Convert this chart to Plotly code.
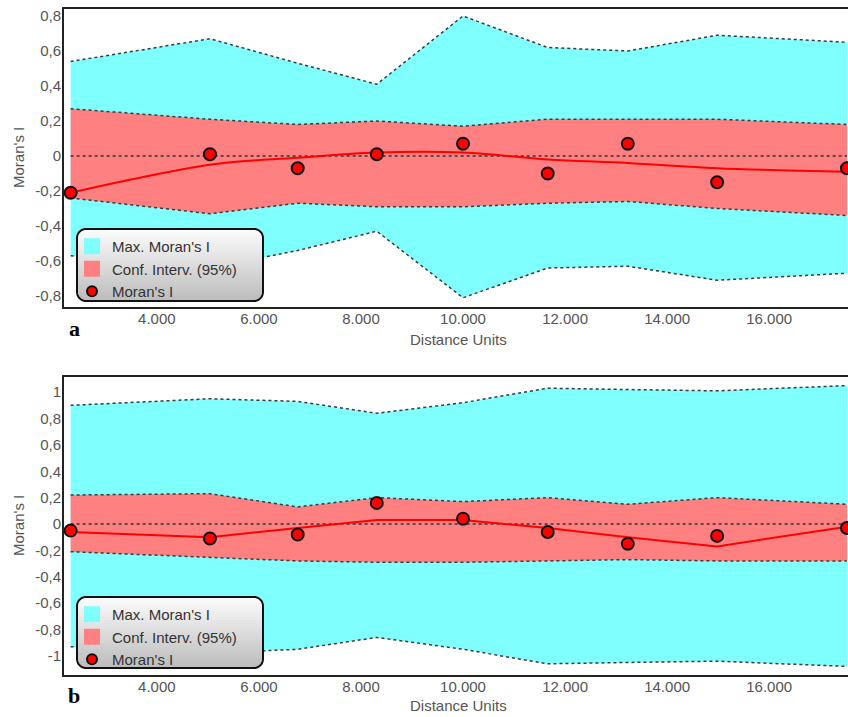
import plotly.graph_objects as go

# ---------------- data ----------------
distance = [2310, 5040, 6760, 8310, 10000, 11660, 13230, 14980, 17525]

max_upper_a = [0.54, 0.67, 0.53, 0.41, 0.80, 0.62, 0.60, 0.69, 0.65]
ci_upper_a = [0.27, 0.21, 0.18, 0.20, 0.17, 0.21, 0.21, 0.21, 0.18]
ci_lower_a = [-0.24, -0.33, -0.27, -0.29, -0.29, -0.27, -0.26, -0.30, -0.34]
max_lower_a = [-0.57, -0.64, -0.54, -0.43, -0.81, -0.64, -0.63, -0.71, -0.67]
morans_a = [-0.21, 0.01, -0.07, 0.01, 0.07, -0.10, 0.07, -0.15, -0.07]
trend_a = [-0.21, -0.05, -0.01, 0.02, 0.02, -0.02, -0.04, -0.07, -0.09]

max_upper_b = [0.90, 0.95, 0.93, 0.84, 0.92, 1.03, 1.02, 1.01, 1.05]
ci_upper_b = [0.22, 0.23, 0.13, 0.20, 0.17, 0.20, 0.15, 0.20, 0.15]
ci_lower_b = [-0.21, -0.25, -0.28, -0.29, -0.29, -0.28, -0.27, -0.28, -0.28]
max_lower_b = [-0.93, -0.98, -0.95, -0.86, -0.95, -1.06, -1.05, -1.04, -1.08]
morans_b = [-0.05, -0.11, -0.08, 0.16, 0.04, -0.06, -0.15, -0.09, -0.03]
trend_b = [-0.06, -0.10, -0.03, 0.03, 0.03, -0.03, -0.10, -0.17, -0.02]

x_tickvals = [4000, 6000, 8000, 10000, 12000, 14000, 16000]
x_ticktext = ["4.000", "6.000", "8.000", "10.000", "12.000", "14.000", "16.000"]
ya_tickvals = [-0.8, -0.6, -0.4, -0.2, 0, 0.2, 0.4, 0.6, 0.8]
ya_ticktext = ["-0,8", "-0,6", "-0,4", "-0,2", "0", "0,2", "0,4", "0,6", "0,8"]
yb_tickvals = [-1, -0.8, -0.6, -0.4, -0.2, 0, 0.2, 0.4, 0.6, 0.8, 1]
yb_ticktext = ["-1", "-0,8", "-0,6", "-0,4", "-0,2", "0", "0,2", "0,4", "0,6", "0,8", "1"]

legend_names = ["Max. Moran's I", "Conf. Interv. (95%)", "Moran's I"]

# ---------------- styles ----------------
W, H = 848, 717
ML, MR, MT, MB = 64, 0, 9, 42
PW, PH = W - ML - MR, H - MT - MB
CYAN = "#80FFFF"
SALMON = "#FF8080"
RED = "#FF0000"
EDGE = dict(color="#3a3a3a", width=1.5, dash="dot")
FONT = "Liberation Sans, Arial, sans-serif"
TICKC = "#555555"


def px_to_paper(px, py):
    return (px - ML) / PW, (H - MB - py) / PH


fig = go.Figure()


def add_panel(xa, ya, mx_u, ci_u, ci_l, mx_l, mi, tr, legend, shape):
    common = dict(xaxis=xa, yaxis=ya, showlegend=False, hoverinfo="skip")
    fig.add_trace(go.Scatter(x=distance, y=mx_l, mode="lines", line=EDGE, **common))
    fig.add_trace(go.Scatter(x=distance, y=mx_u, mode="lines", line=EDGE,
                             fill="tonexty", fillcolor=CYAN, **common))
    fig.add_trace(go.Scatter(x=distance, y=ci_l, mode="lines", line=EDGE, **common))
    fig.add_trace(go.Scatter(x=distance, y=ci_u, mode="lines", line=EDGE,
                             fill="tonexty", fillcolor=SALMON, **common))
    fig.add_trace(go.Scatter(x=[distance[0], distance[-1]], y=[0, 0], mode="lines",
                             line=dict(color="#333333", width=1.5, dash="dot"), **common))
    fig.add_trace(go.Scatter(x=distance, y=tr, mode="lines",
                             line=dict(color=RED, width=2, shape=shape), **common))
    fig.add_trace(go.Scatter(x=distance, y=mi, mode="markers",
                             marker=dict(color=RED, size=12, line=dict(color="#111111", width=2)),
                             **common))
    # legend-only entries
    fig.add_trace(go.Scatter(x=[None], y=[None], mode="markers", name=legend_names[0],
                             marker=dict(symbol="square", color=CYAN, size=16),
                             xaxis=xa, yaxis=ya, legend=legend))
    fig.add_trace(go.Scatter(x=[None], y=[None], mode="markers", name=legend_names[1],
                             marker=dict(symbol="square", color=SALMON, size=16),
                             xaxis=xa, yaxis=ya, legend=legend))
    fig.add_trace(go.Scatter(x=[None], y=[None], mode="markers", name=legend_names[2],
                             marker=dict(color=RED, size=10, line=dict(color="#111111", width=2)),
                             xaxis=xa, yaxis=ya, legend=legend))


add_panel("x", "y", max_upper_a, ci_upper_a, ci_lower_a, max_lower_a, morans_a, trend_a,
          "legend", "spline")
add_panel("x2", "y2", max_upper_b, ci_upper_b, ci_lower_b, max_lower_b, morans_b, trend_b,
          "legend2", "linear")


# ---------------- rounded gradient legend boxes ----------------
def rounded_rect(x0, y0, x1, y1, r, n=10):
    import math
    pts = []
    corners = [(x1 - r, y0 + r, -90, 0), (x1 - r, y1 - r, 0, 90),
               (x0 + r, y1 - r, 90, 180), (x0 + r, y0 + r, 180, 270)]
    for cx, cy, a0, a1 in corners:
        for i in range(n + 1):
            a = math.radians(a0 + (a1 - a0) * i / n)
            pts.append((cx + r * math.cos(a), cy + r * math.sin(a)))
    return pts


def clip(poly, yv, keep_below):
    out = []
    def inside(p):
        return p[1] >= yv if keep_below else p[1] <= yv
    for i in range(len(poly)):
        cur, prev = poly[i], poly[i - 1]
        if inside(cur):
            if not inside(prev):
                t = (yv - prev[1]) / (cur[1] - prev[1])
                out.append((prev[0] + t * (cur[0] - prev[0]), yv))
            out.append(cur)
        elif inside(prev):
            t = (yv - prev[1]) / (cur[1] - prev[1])
            out.append((prev[0] + t * (cur[0] - prev[0]), yv))
    return out


def to_path(pts):
    s = []
    for i, (px, py) in enumerate(pts):
        x, y = px_to_paper(px, py)
        s.append(("M" if i == 0 else "L") + f"{x:.5f},{y:.5f}")
    return " ".join(s) + " Z"


shapes = []


def legend_box(x0, y0, x1, y1):
    poly = rounded_rect(x0, y0, x1, y1, 9)
    n = 24
    for i in range(n):
        ya = y0 + (y1 - y0) * i / n - 0.6
        yb = y0 + (y1 - y0) * (i + 1) / n + 0.6
        p = clip(clip(poly, ya, True), yb, False)
        if len(p) < 3:
            continue
        t = i / (n - 1)
        g = int(252 - 62 * t)
        shapes.append(dict(type="path", path=to_path(p), xref="paper", yref="paper",
                           fillcolor=f"rgb({g},{g},{g})", line=dict(width=0), layer="above"))
    shapes.append(dict(type="path", path=to_path(poly), xref="paper", yref="paper",
                       fillcolor="rgba(0,0,0,0)", line=dict(color="#111111", width=2),
                       layer="above"))


legend_box(77, 229, 263, 301)
legend_box(77, 597, 263, 668)

# ---------------- layout ----------------
top_dom = [(H - MB - 307) / PH, 1.0]
bot_dom = [0.0, (H - MB - 377) / PH]

axis_x = dict(range=[2180, 17545], tickvals=x_tickvals, ticktext=x_ticktext,
              showgrid=False, zeroline=False, showline=True, linecolor="#222222",
              linewidth=2, mirror=True, ticks="", ticklabelstandoff=-3,
              tickfont=dict(family=FONT, size=15, color=TICKC))
axis_y = dict(showgrid=False, zeroline=False, showline=True, linecolor="#222222",
              linewidth=2, ticks="", ticklabelstandoff=-2,
              tickfont=dict(family=FONT, size=15, color=TICKC))

lx, _ = px_to_paper(72, 0)
_, ly_a = px_to_paper(0, 230)
_, ly_b = px_to_paper(0, 598)
legend_common = dict(xanchor="left", yanchor="top", bgcolor="rgba(0,0,0,0)",
                     borderwidth=0, font=dict(family=FONT, size=15, color="#333333"),
                     tracegroupgap=0, itemsizing="trace", traceorder="normal")

annotations = []
for py_title, py_letter, letter, py_mid in [(339, 328, "a", 158), (706, 695, "b", 526)]:
    ax, ay = px_to_paper(458, py_title)
    annotations.append(dict(text="Distance Units", x=ax, y=ay, xref="paper", yref="paper",
                            xanchor="center", yanchor="middle",
                            showarrow=False, font=dict(family=FONT, size=15, color=TICKC)))
    bx, by = px_to_paper(74, py_letter)
    annotations.append(dict(text=f"<b>{letter}</b>", x=bx, y=by, xref="paper", yref="paper",
                            xanchor="center", yanchor="middle", showarrow=False,
                            font=dict(family="Liberation Serif, Times New Roman, serif",
                                      size=22, color="#000000")))
    tx, ty = px_to_paper(18, py_mid)
    annotations.append(dict(text="Moran's I", x=tx, y=ty, xref="paper", yref="paper",
                            xanchor="center", yanchor="middle",
                            textangle=-90, showarrow=False,
                            font=dict(family=FONT, size=15, color=TICKC)))

fig.update_layout(
    width=W, height=H,
    margin=dict(l=ML, r=MR, t=MT, b=MB),
    paper_bgcolor="white", plot_bgcolor="white",
    xaxis=dict(axis_x, domain=[0, 1], anchor="y"),
    yaxis=dict(axis_y, domain=top_dom, anchor="x", range=[-0.863, 0.84],
               tickvals=ya_tickvals, ticktext=ya_ticktext),
    xaxis2=dict(axis_x, domain=[0, 1], anchor="y2"),
    yaxis2=dict(axis_y, domain=bot_dom, anchor="x2", range=[-1.145, 1.115],
                tickvals=yb_tickvals, ticktext=yb_ticktext),
    legend=dict(legend_common, x=lx, y=ly_a),
    legend2=dict(legend_common, x=lx, y=ly_b),
    shapes=shapes,
    annotations=annotations,
)

fig.write_html("out.html", config={"displayModeBar": False})

# remove default page margins so the 848x717 figure fills the window exactly
with open("out.html", "r", encoding="utf-8") as f:
    html = f.read()
html = html.replace("<head>", "<head><style>html,body{margin:0;padding:0;overflow:hidden;}</style>", 1)
with open("out.html", "w", encoding="utf-8") as f:
    f.write(html)
